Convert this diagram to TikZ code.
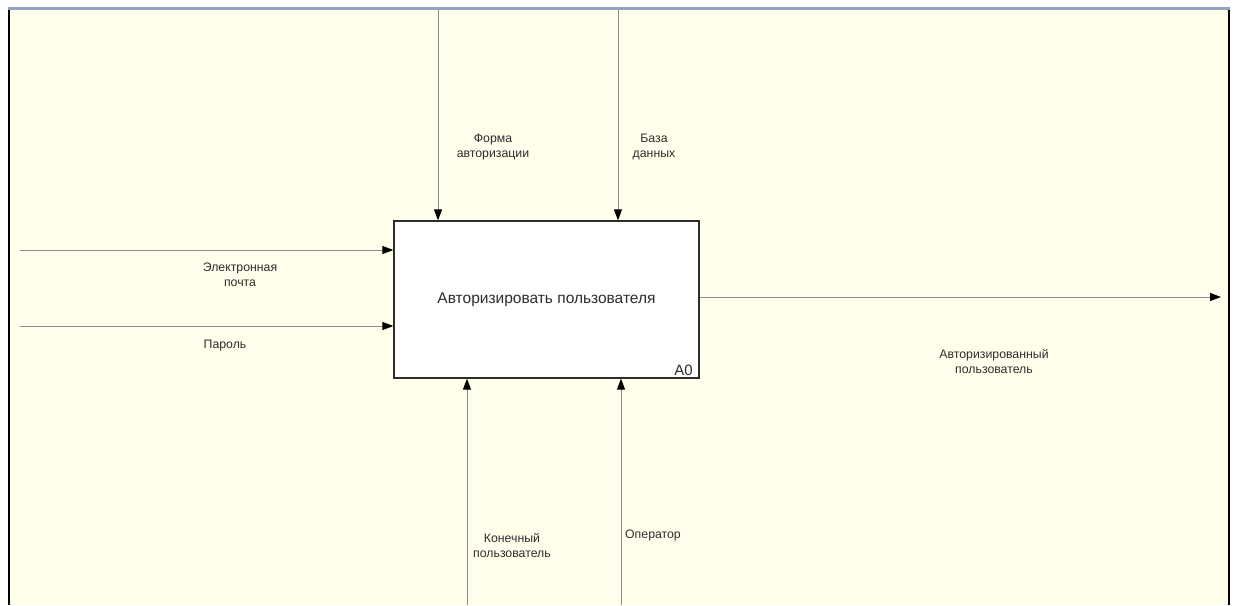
\documentclass[tikz,border=0pt]{standalone}
\usepackage{fontspec}
\setmainfont{Liberation Sans}
\usetikzlibrary{arrows.meta}
\definecolor{paper}{RGB}{255,255,235}
\definecolor{strip}{RGB}{142,164,192}
\definecolor{wire}{RGB}{140,140,140}
\definecolor{ink}{RGB}{45,45,45}
\tikzset{
  flow/.style={draw=wire, line width=1pt, -{Triangle[length=11pt,width=8pt,color=black]}},
  lbl/.style={font=\fontsize{12.3}{15}\selectfont, text=ink, align=center, inner sep=0pt},
  act/.style={draw=ink, fill=white, line width=1.3pt, minimum width=305pt, minimum height=157pt, inner sep=0pt,
    font=\fontsize{15.5}{18}\selectfont, text=ink}
}
\begin{document}
\begin{tikzpicture}[x=1pt,y=-1pt]
  \useasboundingbox (0,0) rectangle (1239,605);
  \fill[white] (0,0) rectangle (1239,605);
  % sheet
  \fill[paper] (9,9) rectangle (1229,605);
  \fill[strip] (8,7) rectangle (1230,9.5);
  \draw[black, line width=1.6pt] (9,9.5) -- (9,605);
  \draw[black, line width=1.6pt] (1229,9.5) -- (1229,605);

  % activity box
  \node[act] (fn) at (546.5,299.5) {Авторизировать пользователя};
  \node[font=\fontsize{15}{17}\selectfont, text=ink, anchor=south east, inner sep=0pt] (num) at (693,375.5) {A0};

  % free ends of the arrows
  \coordinate (c1) at (438,10);
  \coordinate (c2) at (618,10);
  \coordinate (i1) at (20,250);
  \coordinate (i2) at (20,326);
  \coordinate (o1) at (1221,297);
  \coordinate (m1) at (467,605);
  \coordinate (m2) at (621,605);

  % controls
  \draw[flow] (c1) -- (c1 |- fn.north);
  \draw[flow] (c2) -- (c2 |- fn.north);
  % inputs
  \draw[flow] (i1) -- (i1 -| fn.west);
  \draw[flow] (i2) -- (i2 -| fn.west);
  % output
  \draw[flow] (fn.east |- o1) -- (o1);
  % mechanisms
  \draw[flow] (m1) -- (m1 |- fn.south);
  \draw[flow] (m2) -- (m2 |- fn.south);

  % arrow labels
  \node[lbl] (lc1) at (493,147) {Форма\\авторизации};
  \node[lbl] (lc2) at (654,147) {База\\данных};
  \node[lbl] (li1) at (240,275) {Электронная\\почта};
  \node[lbl] (li2) at (225,346) {Пароль};
  \node[lbl] (lo1) at (994,361) {Авторизированный\\пользователь};
  \node[lbl] (lm1) at (512,545) {Конечный\\пользователь};
  \node[lbl] (lm2) at (653,535) {Оператор};
\end{tikzpicture}
\end{document}
